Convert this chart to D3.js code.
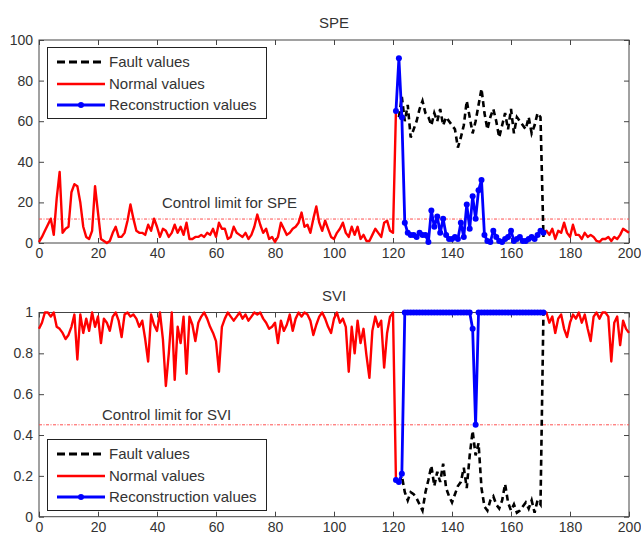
<!DOCTYPE html>
<html>
<head>
<meta charset="utf-8">
<script src="https://cdn.jsdelivr.net/npm/d3@7"></script>
<style>
  body { margin: 0; background: #fff; }
  text { font-family: Arial, "Liberation Sans", sans-serif; fill: #333; }
</style>
</head>
<body>
<svg id="chart" width="641" height="535"></svg>
<script>
// x ticks shared by both panels
var xTicks = [0, 20, 40, 60, 80, 100, 120, 140, 160, 180, 200];
var speTicks = [0, 20, 40, 60, 80, 100];
var sviTicks = [0, 0.2, 0.4, 0.6, 0.8, 1];
var legendLabels = ["Fault values", "Normal values", "Reconstruction values"];

// SPE - normal values, samples 0..121
var speNormalA = [0.5, 3, 6, 9, 12, 4, 22, 35, 5, 7, 8, 25, 29, 28, 20, 8, 3, 2, 6, 28,
  15, 2, 1, 0, 1, 5, 8, 3, 3, 5, 11, 19, 12, 6, 5, 5, 4, 9, 6, 12,
  8, 3, 7, 6, 3, 5, 9, 5, 8, 4, 10, 2, 2, 3, 3, 4, 3, 5, 4, 7,
  3, 10, 7, 7, 2, 3, 8, 5, 4, 3, 5, 2, 4, 8, 14, 9, 5, 7, 2, 3,
  0.5, 3, 10, 7, 4, 5, 7, 8, 10, 15, 8, 9, 5, 12, 18, 10, 6, 11, 7, 3,
  2, 5, 7, 10, 5, 3, 8, 4, 8, 2, 4, 1, 1, 4, 7, 5, 3, 10, 11, 6,
  5, 65];
// SPE - normal values, samples 171..200
var speNormalB = [5, 6, 4, 7, 2, 6, 5, 10, 5, 3, 9, 4, 4, 2, 5, 3, 4, 3, 1, 0.5,
  2, 2, 3, 1, 3, 2, 4, 7, 6, 5];
// SPE - fault values, samples 122..171
var speFault = [62, 72, 60, 68, 52, 56, 60, 66, 70, 64, 62, 58, 64, 60, 66, 58, 62, 60, 58, 56,
  47, 52, 58, 70, 62, 54, 60, 68, 76, 64, 56, 62, 66, 60, 52, 58, 64, 56, 66, 54,
  62, 60, 58, 56, 62, 54, 58, 64, 62, 3];
// SPE - reconstruction values, samples 121..171
var speRecon = [65, 91, 62, 10, 5, 4, 4, 3, 5, 4, 4, 0.5, 16, 8, 13, 5, 12, 4, 2, 2,
  3, 2, 10, 3, 19, 7, 23, 12, 26, 31, 4, 1, 0.5, 6, 3, 1, 0.5, 2, 3, 6,
  1, 2, 3, 1, 1, 2, 3, 2, 4, 6, 5];

// SVI - normal values, samples 0..121
var sviNormalA = [0.92, 0.95, 1, 1, 0.98, 1, 0.93, 0.92, 0.9, 0.87, 0.89, 0.93, 0.99, 0.77, 0.99, 0.9, 0.97, 0.91, 1, 0.93,
  0.98, 0.85, 0.97, 0.95, 0.91, 0.98, 1, 0.96, 0.88, 0.99, 1, 0.98, 0.99, 0.97, 0.93, 0.96, 0.87, 0.76, 0.99, 0.94,
  0.91, 1, 0.87, 0.64, 0.8, 1, 0.67, 0.93, 0.85, 0.98, 0.7, 0.98, 0.94, 0.86, 0.95, 0.98, 1, 0.97, 0.93, 0.9,
  0.86, 0.71, 0.93, 0.97, 1, 0.98, 0.96, 0.98, 1, 0.97, 0.99, 0.96, 0.98, 1, 0.99, 1, 0.97, 0.95, 0.92, 0.93,
  0.95, 0.85, 0.96, 0.91, 0.94, 0.99, 0.91, 0.97, 1, 0.98, 1, 0.99, 0.96, 0.89, 0.94, 0.98, 1, 0.97, 0.93, 0.9,
  0.97, 1, 0.95, 0.97, 0.93, 0.71, 0.93, 0.8, 0.96, 0.85, 0.92, 0.79, 0.68, 0.91, 0.98, 0.93, 0.96, 0.73, 0.9, 0.98,
  1, 0.18];
// SVI - normal values, samples 171..200
var sviNormalB = [1, 1, 0.95, 0.98, 0.9, 0.97, 0.99, 0.92, 0.88, 0.95, 0.99, 0.97, 1, 0.95, 0.99, 0.92, 0.86, 0.98, 1, 0.97,
  1, 1, 0.98, 0.76, 0.95, 0.98, 0.84, 0.96, 0.92, 0.9];
// SVI - fault values, samples 122..171
var sviFault = [0.17, 0.2, 0.12, 0.08, 0.12, 0.11, 0.09, 0.06, 0.03, 0.12, 0.18, 0.25, 0.15, 0.22, 0.17, 0.26, 0.14, 0.1, 0.07, 0.11,
  0.15, 0.17, 0.24, 0.14, 0.3, 0.42, 0.3, 0.36, 0.14, 0.05, 0.03, 0.08, 0.1, 0.06, 0.04, 0.08, 0.16, 0.07, 0.03, 0.06,
  0.02, 0.03, 0.05, 0.07, 0.04, 0.08, 0.02, 0.08, 0.06, 1];
// SVI - reconstruction values, samples 121..171
var sviRecon = [0.18, 0.17, 0.21, 1, 1, 1, 1, 1, 1, 1, 1, 1, 1, 1, 1, 1, 1, 1, 1, 1,
  1, 1, 1, 1, 1, 1, 0.92, 0.45, 1, 1, 1, 1, 1, 1, 1, 1, 1, 1, 1, 1,
  1, 1, 1, 1, 1, 1, 1, 1, 1, 1, 1];

var speLimit = 11.8;
var sviLimit = 0.45;

// turn a value array into points starting at sample `start`
function pts(arr, start) {
  return arr.map(function(v, i) { return [start + i, v]; });
}

var svg = d3.select("#chart");

function panel(cfg) {
  var x = d3.scaleLinear().domain([0, 200]).range([39, 629]);
  var y = d3.scaleLinear().domain(cfg.domain).range([cfg.bottom, cfg.top]);
  var g = svg.append("g");

  // title
  g.append("text")
    .attr("x", 334).attr("y", cfg.top - 12)
    .attr("text-anchor", "middle")
    .style("font-size", "15px")
    .text(cfg.title);

  // box
  g.append("rect")
    .attr("x", 39).attr("y", cfg.top)
    .attr("width", 590).attr("height", cfg.bottom - cfg.top)
    .attr("fill", "none").attr("stroke", "#444").attr("stroke-width", 1);

  // axes, ticks point inward like matlab
  g.append("g").attr("transform", "translate(0," + cfg.bottom + ")")
    .call(d3.axisBottom(x).tickValues(xTicks).tickSizeInner(-5).tickSizeOuter(0).tickPadding(5));
  g.append("g").attr("transform", "translate(0," + cfg.top + ")")
    .call(d3.axisTop(x).tickValues(xTicks).tickSizeInner(-5).tickSizeOuter(0).tickFormat(""));
  g.append("g").attr("transform", "translate(39,0)")
    .call(d3.axisLeft(y).tickValues(cfg.ticks).tickSizeInner(-5).tickSizeOuter(0).tickPadding(6)
      .tickFormat(function(d) { return String(d); }));
  g.append("g").attr("transform", "translate(629,0)")
    .call(d3.axisRight(y).tickValues(cfg.ticks).tickSizeInner(-5).tickSizeOuter(0).tickFormat(""));
  g.selectAll(".domain").remove();
  g.selectAll(".tick line").attr("stroke", "#444");
  g.selectAll(".tick text").style("font-size", "14px").attr("fill", "#333")
    .style("font-family", "Arial, 'Liberation Sans', sans-serif");

  // control limit
  g.append("line")
    .attr("x1", 39).attr("x2", 629)
    .attr("y1", y(cfg.limit)).attr("y2", y(cfg.limit))
    .attr("stroke", "#ff5050").attr("stroke-width", 1)
    .attr("stroke-dasharray", "3,1.5,1,1.5");
  g.append("text")
    .attr("x", cfg.limitX).attr("y", y(cfg.limit) - cfg.limitGap)
    .style("font-size", "15px")
    .text(cfg.limitLabel);

  var line = d3.line().x(function(d) { return x(d[0]); }).y(function(d) { return y(d[1]); });

  // fault values
  g.append("path").datum(pts(cfg.fault, 122)).attr("d", line)
    .attr("fill", "none").attr("stroke", "#000").attr("stroke-width", 2.6)
    .attr("stroke-dasharray", "6,4");
  // normal values
  [pts(cfg.normalA, 0), pts(cfg.normalB, 171)].forEach(function(p) {
    g.append("path").datum(p).attr("d", line)
      .attr("fill", "none").attr("stroke", "#ff0000").attr("stroke-width", 2.4)
      .attr("stroke-linejoin", "round");
  });
  // reconstruction values
  var rec = pts(cfg.recon, 121);
  g.append("path").datum(rec).attr("d", line)
    .attr("fill", "none").attr("stroke", "#0000ff").attr("stroke-width", 2.8)
    .attr("stroke-linejoin", "round");
  g.selectAll(".recdot").data(rec).enter().append("circle")
    .attr("cx", function(d) { return x(d[0]); })
    .attr("cy", function(d) { return y(d[1]); })
    .attr("r", 3).attr("fill", "#0000ff");

  // legend
  var lg = g.append("g");
  lg.append("rect")
    .attr("x", 47.5).attr("y", cfg.legTop + 0.5)
    .attr("width", 219).attr("height", 71)
    .attr("fill", "#fff").attr("stroke", "#222").attr("stroke-width", 1);
  var rows = [cfg.legTop + 15, cfg.legTop + 37, cfg.legTop + 58];
  rows.forEach(function(ry, i) {
    var l = lg.append("line").attr("x1", 57).attr("x2", 105).attr("y1", ry).attr("y2", ry)
      .attr("stroke-width", i === 1 ? 2.4 : 2.8);
    if (i === 0) l.attr("stroke", "#000").attr("stroke-dasharray", "8,4");
    if (i === 1) l.attr("stroke", "#ff0000");
    if (i === 2) {
      l.attr("stroke", "#0000ff");
      lg.append("circle").attr("cx", 81).attr("cy", ry).attr("r", 3).attr("fill", "#0000ff");
    }
    lg.append("text").attr("x", 109).attr("y", ry + 5)
      .style("font-size", "15px")
      .text(legendLabels[i]);
  });
}

panel({
  title: "SPE", domain: [0, 100], ticks: speTicks, top: 40, bottom: 243,
  limit: speLimit, limitLabel: "Control limit for SPE", limitX: 162, limitGap: 11,
  normalA: speNormalA, normalB: speNormalB, fault: speFault, recon: speRecon,
  legTop: 47
});
panel({
  title: "SVI", domain: [0, 1], ticks: sviTicks, top: 312.5, bottom: 516.7,
  limit: sviLimit, limitLabel: "Control limit for SVI", limitX: 102, limitGap: 5,
  normalA: sviNormalA, normalB: sviNormalB, fault: sviFault, recon: sviRecon,
  legTop: 439
});
</script>
</body>
</html>
